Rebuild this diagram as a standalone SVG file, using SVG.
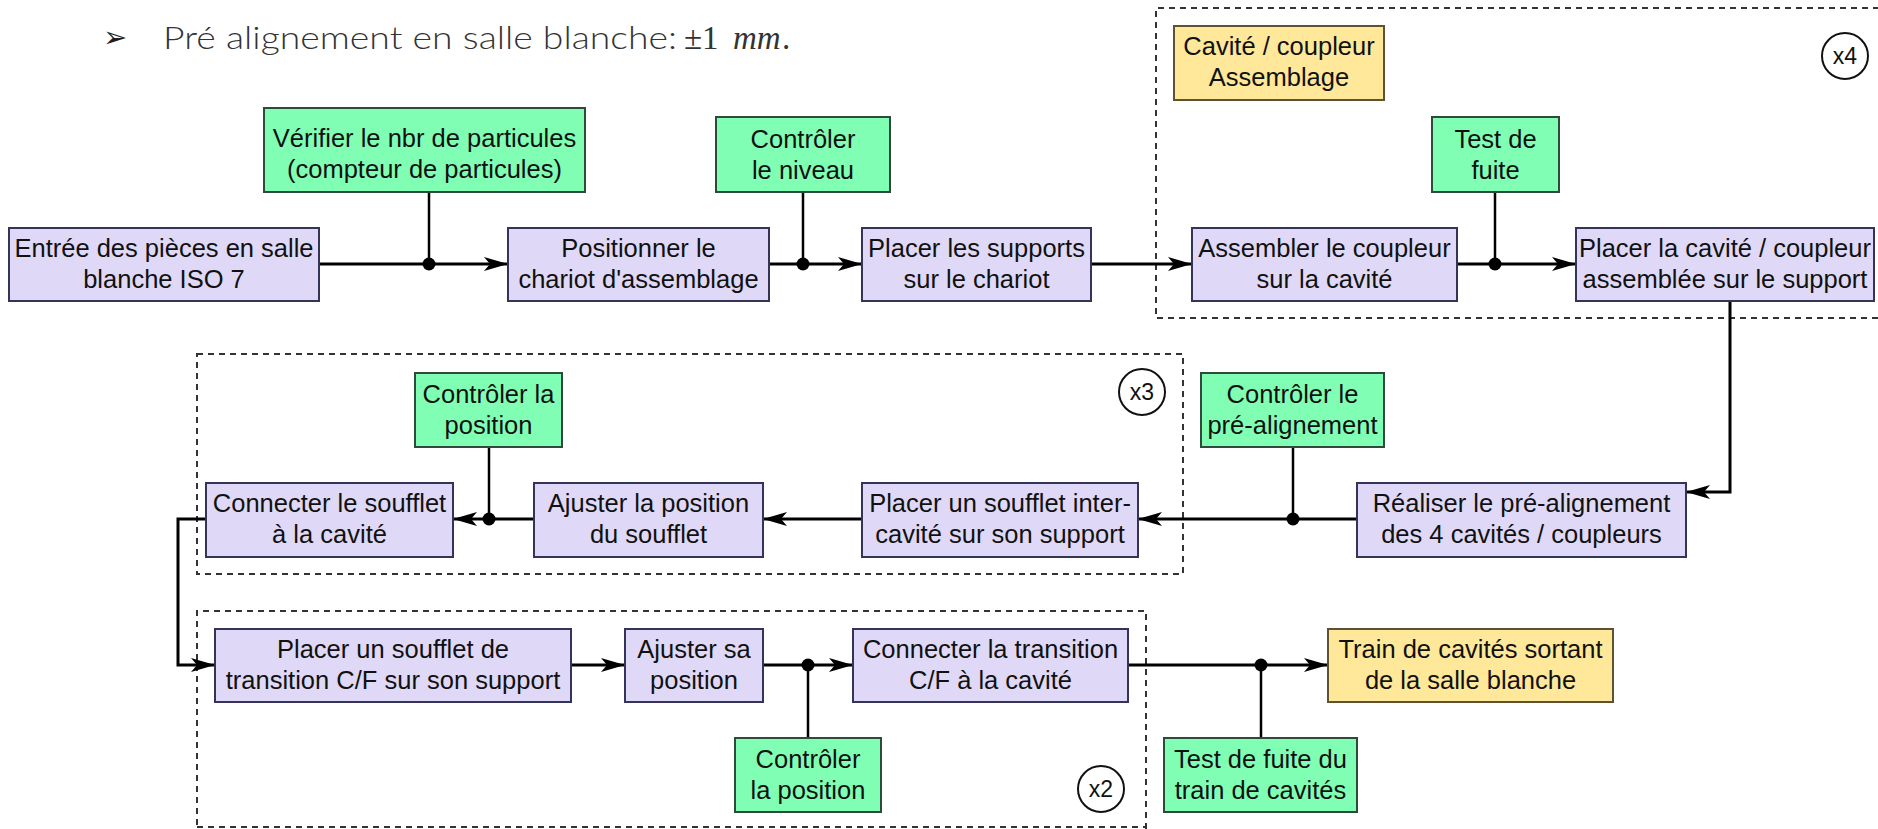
<svg xmlns="http://www.w3.org/2000/svg" width="1878" height="829" viewBox="0 0 1878 829">
  <style>
    .step { fill: #dfd9f7; stroke: #34345a; stroke-width: 2; }
    .check { fill: #80ffb4; stroke: #2e4a3a; stroke-width: 2; }
    .io { fill: #ffe899; stroke: #5f5230; stroke-width: 2; }
    .lbl { font-family: "Liberation Sans", Arial, sans-serif; font-size: 25.5px; fill: #111; text-anchor: middle; }
    .group { fill: none; stroke: #333; stroke-width: 2; stroke-dasharray: 6 5; }
    .count { fill: #fff; stroke: #111; stroke-width: 2; }
    .countlbl { font-family: "Liberation Sans", Arial, sans-serif; font-size: 23px; fill: #111; text-anchor: middle; }
    .flow { fill: none; stroke: #000; stroke-width: 3; }
    .tap { fill: none; stroke: #000; stroke-width: 2.5; }
    .dot { fill: #000; }
  </style>
  <defs>
    <marker id="arrow" markerUnits="userSpaceOnUse" markerWidth="24" markerHeight="14" viewBox="0 0 24 14" refX="23" refY="7" orient="auto">
      <path d="M0,0 L24,7 L0,14 L6,7 Z" fill="#000"/>
    </marker>
  </defs>

  <rect width="1878" height="829" fill="#fff"/>

  <!-- heading -->
  <g id="heading">
    <text x="103" y="47" font-family="DejaVu Sans, sans-serif" font-size="29" fill="#1e1e1e">➢</text>
    <text x="163" y="49" font-family="Lato, 'Open Sans', sans-serif" font-weight="300" font-size="31" fill="#333" textLength="514" lengthAdjust="spacingAndGlyphs">Pré alignement en salle blanche:</text>
    <text x="684" y="49" font-family="'Liberation Serif', serif" font-size="33" fill="#333">±1</text>
    <text x="733" y="49" font-family="'Liberation Serif', serif" font-style="italic" font-size="33" fill="#333">mm</text>
    <text x="782" y="49" font-family="'Liberation Serif', serif" font-size="33" fill="#333">.</text>
  </g>

  <!-- repeat groups -->
  <g id="group-x4">
    <path class="group" d="M1890,8 H1156 V318 H1890"/>
    <circle class="count" cx="1845" cy="56" r="23"/>
    <text class="countlbl" x="1845" y="64">x4</text>
  </g>
  <g id="group-x3">
    <rect class="group" x="197" y="354" width="986" height="220"/>
    <circle class="count" cx="1142" cy="392" r="23"/>
    <text class="countlbl" x="1142" y="400">x3</text>
  </g>
  <g id="group-x2">
    <path class="group" d="M1146,840 V611 H197 V840"/>
    <path class="group" d="M197,827 H1146"/>
    <circle class="count" cx="1101" cy="789" r="23"/>
    <text class="countlbl" x="1101" y="797">x2</text>
  </g>

  <!-- connectors -->
  <g id="connectors">
    <path class="flow" d="M319,264 H507" marker-end="url(#arrow)"/>
    <path class="tap" d="M429,192 V264"/>
    <circle class="dot" cx="429" cy="264" r="6.5"/>

    <path class="flow" d="M769,264 H861" marker-end="url(#arrow)"/>
    <path class="tap" d="M803,192 V264"/>
    <circle class="dot" cx="803" cy="264" r="6.5"/>

    <path class="flow" d="M1091,264 H1191" marker-end="url(#arrow)"/>

    <path class="flow" d="M1457,264 H1575" marker-end="url(#arrow)"/>
    <path class="tap" d="M1495,192 V264"/>
    <circle class="dot" cx="1495" cy="264" r="6.5"/>

    <path class="flow" d="M1730,301 V492 H1687" marker-end="url(#arrow)"/>

    <path class="flow" d="M1357,519 H1139" marker-end="url(#arrow)"/>
    <path class="tap" d="M1293,447 V519"/>
    <circle class="dot" cx="1293" cy="519" r="6.5"/>

    <path class="flow" d="M862,519 H764" marker-end="url(#arrow)"/>

    <path class="flow" d="M534,519 H454" marker-end="url(#arrow)"/>
    <path class="tap" d="M489,447 V519"/>
    <circle class="dot" cx="489" cy="519" r="6.5"/>

    <path class="flow" d="M206,519 H178 V665 H214" marker-end="url(#arrow)"/>
    <path d="M207,519 H214" stroke="#2020d0" stroke-width="2.5"/>

    <path class="flow" d="M571,665 H624" marker-end="url(#arrow)"/>

    <path class="flow" d="M763,665 H852" marker-end="url(#arrow)"/>
    <path class="tap" d="M808,738 V665"/>
    <circle class="dot" cx="808" cy="665" r="6.5"/>

    <path class="flow" d="M1128,665 H1327" marker-end="url(#arrow)"/>
    <path class="tap" d="M1261,738 V665"/>
    <circle class="dot" cx="1261" cy="665" r="6.5"/>
  </g>

  <!-- row 1 -->
  <g id="entree">
    <rect class="step" x="9" y="228" width="310" height="73"/>
    <text class="lbl"><tspan x="164" y="257">Entrée des pièces en salle</tspan><tspan x="164" y="288">blanche ISO 7</tspan></text>
  </g>
  <g id="verifier-particules">
    <rect class="check" x="264" y="108" width="321" height="84"/>
    <text class="lbl"><tspan x="424.5" y="147">Vérifier le nbr de particules</tspan><tspan x="424.5" y="178">(compteur de particules)</tspan></text>
  </g>
  <g id="positionner-chariot">
    <rect class="step" x="508" y="228" width="261" height="73"/>
    <text class="lbl"><tspan x="638.5" y="257">Positionner le</tspan><tspan x="638.5" y="288">chariot d'assemblage</tspan></text>
  </g>
  <g id="controler-niveau">
    <rect class="check" x="716" y="117" width="174" height="75"/>
    <text class="lbl"><tspan x="803" y="148">Contrôler</tspan><tspan x="803" y="179">le niveau</tspan></text>
  </g>
  <g id="placer-supports">
    <rect class="step" x="862" y="228" width="229" height="73"/>
    <text class="lbl"><tspan x="976.5" y="257">Placer les supports</tspan><tspan x="976.5" y="288">sur le chariot</tspan></text>
  </g>
  <g id="assemblage-titre">
    <rect class="io" x="1174" y="26" width="210" height="74"/>
    <text class="lbl"><tspan x="1279" y="55">Cavité / coupleur</tspan><tspan x="1279" y="86">Assemblage</tspan></text>
  </g>
  <g id="assembler-coupleur">
    <rect class="step" x="1192" y="228" width="265" height="73"/>
    <text class="lbl"><tspan x="1324.5" y="257">Assembler le coupleur</tspan><tspan x="1324.5" y="288">sur la cavité</tspan></text>
  </g>
  <g id="test-fuite">
    <rect class="check" x="1432" y="117" width="127" height="75"/>
    <text class="lbl"><tspan x="1495.5" y="148">Test de</tspan><tspan x="1495.5" y="179">fuite</tspan></text>
  </g>
  <g id="placer-cavite">
    <rect class="step" x="1576" y="228" width="298" height="73"/>
    <text class="lbl"><tspan x="1725" y="257">Placer la cavité / coupleur</tspan><tspan x="1725" y="288">assemblée sur le support</tspan></text>
  </g>

  <!-- row 2 -->
  <g id="realiser-prealignement">
    <rect class="step" x="1357" y="483" width="329" height="74"/>
    <text class="lbl"><tspan x="1521.5" y="512">Réaliser le pré-alignement</tspan><tspan x="1521.5" y="543">des 4 cavités / coupleurs</tspan></text>
  </g>
  <g id="controler-prealignement">
    <rect class="check" x="1201" y="373" width="183" height="74"/>
    <text class="lbl"><tspan x="1292.5" y="403">Contrôler le</tspan><tspan x="1292.5" y="434">pré-alignement</tspan></text>
  </g>
  <g id="placer-soufflet-inter">
    <rect class="step" x="862" y="483" width="276" height="74"/>
    <text class="lbl"><tspan x="1000" y="512">Placer un soufflet inter-</tspan><tspan x="1000" y="543">cavité sur son support</tspan></text>
  </g>
  <g id="ajuster-soufflet">
    <rect class="step" x="534" y="483" width="229" height="74"/>
    <text class="lbl"><tspan x="648.5" y="512">Ajuster la position</tspan><tspan x="648.5" y="543">du soufflet</tspan></text>
  </g>
  <g id="controler-position-1">
    <rect class="check" x="415" y="373" width="147" height="74"/>
    <text class="lbl"><tspan x="488.5" y="403">Contrôler la</tspan><tspan x="488.5" y="434">position</tspan></text>
  </g>
  <g id="connecter-soufflet">
    <rect class="step" x="206" y="483" width="247" height="74"/>
    <text class="lbl"><tspan x="329.5" y="512">Connecter le soufflet</tspan><tspan x="329.5" y="543">à la cavité</tspan></text>
  </g>

  <!-- row 3 -->
  <g id="placer-soufflet-transition">
    <rect class="step" x="215" y="629" width="356" height="73"/>
    <text class="lbl"><tspan x="393" y="658">Placer un soufflet de</tspan><tspan x="393" y="689">transition C/F sur son support</tspan></text>
  </g>
  <g id="ajuster-sa-position">
    <rect class="step" x="625" y="629" width="138" height="73"/>
    <text class="lbl"><tspan x="694" y="658">Ajuster sa</tspan><tspan x="694" y="689">position</tspan></text>
  </g>
  <g id="controler-position-2">
    <rect class="check" x="735" y="738" width="146" height="74"/>
    <text class="lbl"><tspan x="808" y="768">Contrôler</tspan><tspan x="808" y="799">la position</tspan></text>
  </g>
  <g id="connecter-transition">
    <rect class="step" x="853" y="629" width="275" height="73"/>
    <text class="lbl"><tspan x="990.5" y="658">Connecter la transition</tspan><tspan x="990.5" y="689">C/F à la cavité</tspan></text>
  </g>
  <g id="test-fuite-train">
    <rect class="check" x="1164" y="738" width="193" height="74"/>
    <text class="lbl"><tspan x="1260.5" y="768">Test de fuite du</tspan><tspan x="1260.5" y="799">train de cavités</tspan></text>
  </g>
  <g id="train-sortant">
    <rect class="io" x="1328" y="629" width="285" height="73"/>
    <text class="lbl"><tspan x="1470.5" y="658">Train de cavités sortant</tspan><tspan x="1470.5" y="689">de la salle blanche</tspan></text>
  </g>
</svg>
